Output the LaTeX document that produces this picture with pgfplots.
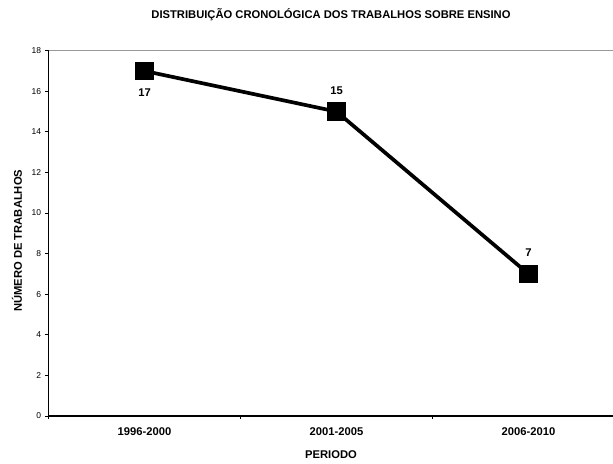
\documentclass[border=0pt]{standalone}
\usepackage{pgfplots}
\pgfplotsset{compat=1.18}
\usepackage{fontspec}
\setmainfont{Liberation Sans}
\begin{document}
\begin{tikzpicture}
\path[use as bounding box] (-48.5bp,-48bp) rectangle (564.5bp,416bp);
\begin{axis}[
  scale only axis,
  width=564.5bp, height=365.3bp,
  xmin=0, xmax=2.94, ymin=0, ymax=18,
  axis x line*=bottom, axis y line*=left,
  axis line style={line width=1.8bp, -},
  xtick={0,1,2,3}, xticklabels={},
  extra x ticks={0.5,1.5,2.5},
  extra x tick labels={1996-2000,2001-2005,2006-2010},
  extra x tick style={major tick length=0pt, tick label style={font=\fontsize{11.2bp}{13bp}\selectfont\bfseries, yshift=-8bp}},
  ytick={0,2,...,18},
  tick style={black, line width=0.8bp},
  major tick length=3bp,
  tick align=outside,
  y tick label style={font=\fontsize{8.5bp}{10bp}\selectfont, xshift=-1bp},
  /pgf/number format/assume math mode=true,
  clip=false,
]
\draw[gray!80, line width=1bp] (rel axis cs:0,1) -- (rel axis cs:1,1);
\addplot[black, line width=3.7bp, mark=square*, mark size=7.5bp, mark options={solid}]
  coordinates {(0.5,17) (1.5,15) (2.5,7)};
\node[font=\fontsize{11.2bp}{13bp}\selectfont\bfseries] at (axis cs:0.5,17) [yshift=-21.5bp] {17};
\node[font=\fontsize{11.2bp}{13bp}\selectfont\bfseries] at (axis cs:1.5,15) [yshift=21bp] {15};
\node[font=\fontsize{11.2bp}{13bp}\selectfont\bfseries] at (axis cs:2.5,7) [yshift=21.5bp] {7};
\node[font=\fontsize{11.2bp}{13bp}\selectfont\bfseries] at (rel axis cs:0.5004,1) [yshift=35.7bp] {DISTRIBUIÇÃO CRONOLÓGICA DOS TRABALHOS SOBRE ENSINO};
\node[font=\fontsize{11.2bp}{13bp}\selectfont\bfseries, rotate=90] at (rel axis cs:-0.0558,0.48) {NÚMERO DE TRABALHOS};
\node[font=\fontsize{11.2bp}{13bp}\selectfont\bfseries] at (rel axis cs:0.5004,0) [yshift=-39bp] {PERIODO};
\end{axis}
\end{tikzpicture}
\end{document}
